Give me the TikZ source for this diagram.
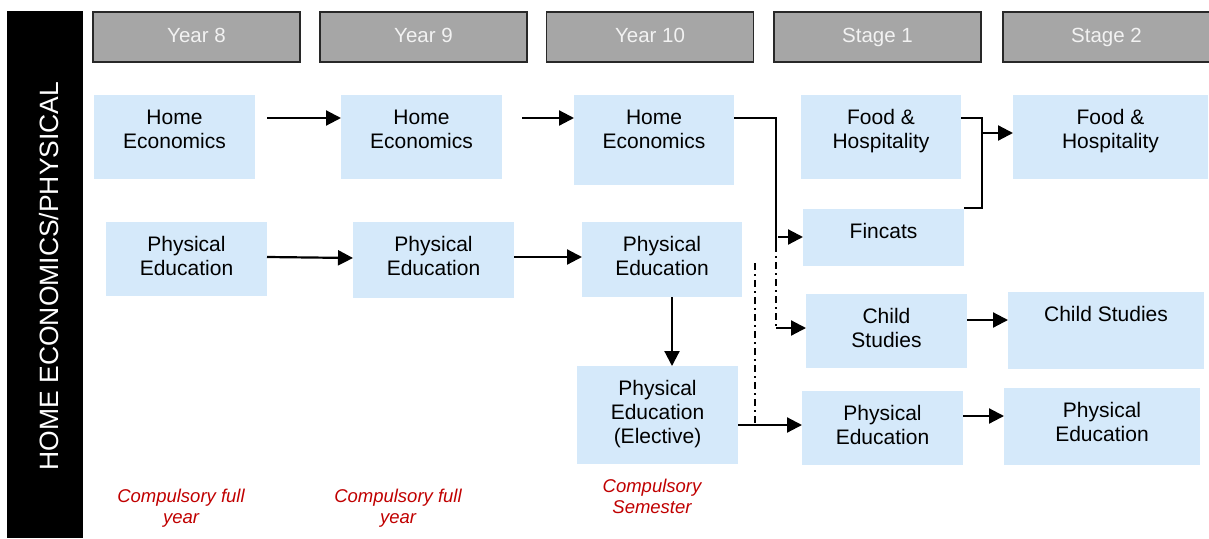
\documentclass[tikz,border=0pt]{standalone}
\usepackage{fontspec}
\setmainfont{Liberation Sans}
\usetikzlibrary{arrows.meta}
\definecolor{boxblue}{RGB}{213,233,250}
\definecolor{hdrgray}{RGB}{166,166,166}
\definecolor{hdrline}{RGB}{40,40,40}
\definecolor{notered}{RGB}{192,0,0}
\tikzset{
  hdr/.style={draw=hdrline, line width=1.8pt, fill=hdrgray, text=white!95!black,
    minimum width=207pt, minimum height=50pt, inner sep=0pt,
    font=\fontsize{20.5}{24}\selectfont, text height=15pt, text depth=4pt},
  bbox/.style={fill=boxblue, inner sep=0pt, outer sep=0pt},
  btxt/.style={anchor=north, align=center, inner sep=0pt, font=\fontsize{21}{24}\selectfont},
  note/.style={anchor=north, align=center, inner sep=0pt, text=notered,
    font=\fontsize{18.5}{21}\selectfont\itshape},
  conn/.style={line width=2.2pt, black},
  arr/.style={conn, -{Triangle[length=15pt,width=15pt]}},
  dashdot/.style={line width=2.2pt, dash pattern=on 7pt off 4pt on 2pt off 4pt}
}
\begin{document}
\begin{tikzpicture}[x=1pt,y=-1pt]
\useasboundingbox (0,0) rectangle (1209,538);
% side bar
\node[fill=black, minimum width=76pt, minimum height=527pt, inner sep=0pt] (bar) at (45,274.5) {};
\node[rotate=90, text=white, inner sep=0pt, font=\fontsize{26.5}{30}\selectfont,
  text height=19pt, text depth=0pt] (bartxt) at (48.5,276) {HOME ECONOMICS/PHYSICAL};
% headers
\node[hdr] (y8) at (196.5,37) {Year 8};
\node[hdr] (y9) at (423.5,37) {Year 9};
\node[hdr] (y10) at (650,37) {Year 10};
\node[hdr] (s1) at (877.5,37) {Stage 1};
\node[hdr] (s2) at (1106.5,37) {Stage 2};
% boxes
\node[bbox, minimum width=161pt, minimum height=84pt] (he8) at (174.5,137) {};
\node[bbox, minimum width=161pt, minimum height=84pt] (he9) at (421.5,137) {};
\node[bbox, minimum width=160pt, minimum height=90pt] (he10) at (654,140) {};
\node[bbox, minimum width=160pt, minimum height=84pt] (fh1) at (881,137) {};
\node[bbox, minimum width=195pt, minimum height=84pt] (fh2) at (1110.5,137) {};
\node[bbox, minimum width=161pt, minimum height=57pt] (fin) at (883.5,237.5) {};
\node[bbox, minimum width=161pt, minimum height=74pt] (pe8) at (186.5,259) {};
\node[bbox, minimum width=161pt, minimum height=76pt] (pe9) at (433.5,260) {};
\node[bbox, minimum width=160pt, minimum height=75pt] (pe10) at (662,259.5) {};
\node[bbox, minimum width=161pt, minimum height=74pt] (cs1) at (886.5,331) {};
\node[bbox, minimum width=196pt, minimum height=77pt] (cs2) at (1106,330.5) {};
\node[bbox, minimum width=161pt, minimum height=98pt] (pee) at (657.5,415) {};
\node[bbox, minimum width=161pt, minimum height=74pt] (pe1) at (882.5,428) {};
\node[bbox, minimum width=196pt, minimum height=77pt] (pe2) at (1102,426.5) {};
% box texts
\node[btxt] (he8t) at ([yshift=-12.2pt]he8.north) {\strut Home\\Economics};
\node[btxt] (he9t) at ([yshift=-12.2pt]he9.north) {\strut Home\\Economics};
\node[btxt] (he10t) at ([yshift=-12.2pt]he10.north) {\strut Home\\Economics};
\node[btxt] (fh1t) at ([yshift=-12.2pt]fh1.north) {\strut Food \&\\Hospitality};
\node[btxt] (fh2t) at ([yshift=-12.2pt]fh2.north) {\strut Food \&\\Hospitality};
\node[btxt] (fint) at ([yshift=-12.2pt]fin.north) {\strut Fincats};
\node[btxt] (pe8t) at ([yshift=-12.2pt]pe8.north) {\strut Physical\\Education};
\node[btxt] (pe9t) at ([yshift=-12.2pt]pe9.north) {\strut Physical\\Education};
\node[btxt] (pe10t) at ([yshift=-12.2pt]pe10.north) {\strut Physical\\Education};
\node[btxt] (cs1t) at ([yshift=-12.2pt]cs1.north) {\strut Child\\Studies};
\node[btxt] (cs2t) at ([yshift=-12.2pt]cs2.north) {\strut Child Studies};
\node[btxt] (peet) at ([yshift=-12.2pt]pee.north) {\strut Physical\\Education\\(Elective)};
\node[btxt] (pe1t) at ([yshift=-12.2pt]pe1.north) {\strut Physical\\Education};
\node[btxt] (pe2t) at ([yshift=-12.2pt]pe2.north) {\strut Physical\\Education};
% notes
\node[note] (n8) at (181,487.3) {\strut Compulsory full\\year};
\node[note] (n9) at (398,487.3) {\strut Compulsory full\\year};
\node[note] (n10) at (652,478) {\strut Compulsory\\Semester};
% connectors
\draw[arr, shorten <=12pt] (he8.east |- 0,118) -- (he9.west |- 0,118);
\draw[arr, shorten <=20pt] (he9.east |- 0,118) -- (he10.west |- 0,118);
\draw[arr] (pe8.east |- 0,257) -- (pe9.west |- 0,258);
\draw[arr] (pe9.east |- 0,257) -- (pe10.west |- 0,257);
\draw[arr] (pe10.south -| 672,0) -- (pee.north -| 672,0);
\coordinate (j1) at (776,118);
\coordinate (j2) at (776,245);
\coordinate (j3) at (776,328);
\draw[conn] (he10.east |- j1) -- (j1) -- (j2);
\draw[arr, shorten <=2pt] (j1 |- 0,237) -- (fin.west |- 0,237);
\draw[dashdot] (j2) -- (j3);
\draw[arr] (j3) -- (cs1.west |- j3);
\coordinate (k1) at (755,263);
\coordinate (k2) at (755,425);
\draw[dashdot] (k1) -- (k2);
\draw[arr] (pee.east |- k2) -- (pe1.west |- k2);
\coordinate (b1) at (982,118);
\coordinate (b2) at (982,208);
\draw[conn] (fh1.east |- b1) -- (b1) -- (b2) -- (fin.east |- b2);
\draw[arr] (b1 |- 0,133) -- (fh2.west |- 0,133);
\draw[arr] (cs1.east |- 0,320) -- (cs2.west |- 0,320);
\draw[arr] (pe1.east |- 0,416) -- (pe2.west |- 0,416);
\end{tikzpicture}
\end{document}
